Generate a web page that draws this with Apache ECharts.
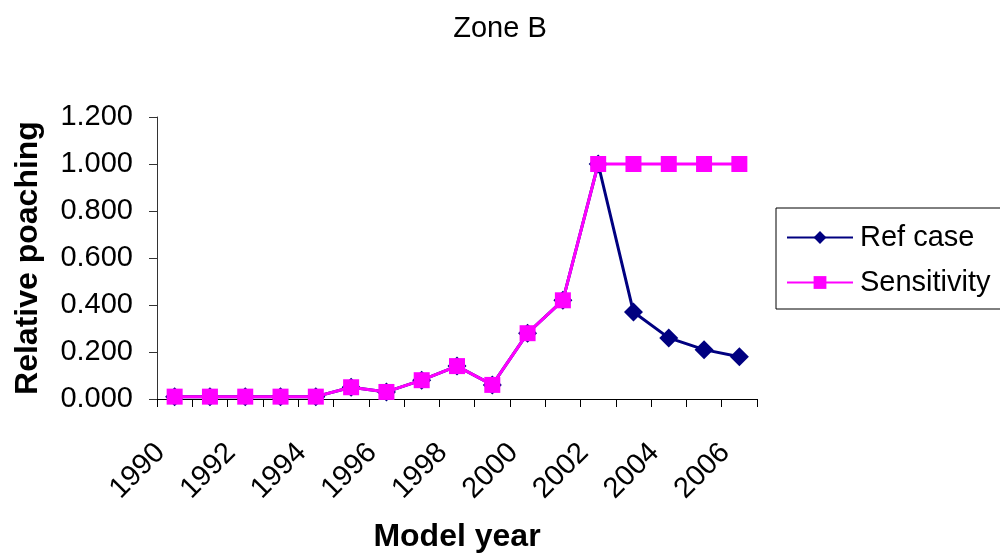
<!DOCTYPE html>
<html>
<head>
<meta charset="utf-8">
<script src="https://cdn.jsdelivr.net/npm/echarts@6/dist/echarts.min.js"></script>
<style>
html,body{margin:0;padding:0;background:#fff;}
#chart{width:1000px;height:558px;}
</style>
</head>
<body>
<div id="chart"></div>
<script>
const years = ['1990','1991','1992','1993','1994','1995','1996','1997','1998','1999','2000','2001','2002','2003','2004','2005','2006'];
const refCase = [0.01,0.01,0.01,0.01,0.01,0.05,0.03,0.08,0.14,0.06,0.28,0.42,1.00,0.37,0.26,0.21,0.18];
const sensitivity = [0.01,0.01,0.01,0.01,0.01,0.05,0.03,0.08,0.14,0.06,0.28,0.42,1.00,1.00,1.00,1.00,1.00];
const yTicks = {min:0, max:1.2, interval:0.2};

const FONT = 'Liberation Sans, Arial, sans-serif';
const chart = echarts.init(document.getElementById('chart'), null, {renderer:'canvas'});
chart.setOption({
  backgroundColor:'#fff',
  animation:false,
  title:{
    text:'Zone B', left:'center', top:9,
    textStyle:{fontFamily:FONT, fontSize:29, fontWeight:'normal', color:'#000'}
  },
  legend:{
    orient:'vertical', left:776, top:208,
    borderColor:'#000', borderWidth:1,
    padding:[15,20,12,10],
    itemWidth:66, itemHeight:16, itemGap:16,
    textStyle:{fontFamily:FONT, fontSize:29, color:'#000', padding:[0,0,0,2]},
    data:['Ref case','Sensitivity']
  },
  grid:{left:157, right:243, top:117, bottom:155, containLabel:false},
  xAxis:{
    type:'category', data:years, boundaryGap:true,
    name:'Model year', nameLocation:'middle', nameGap:122,
    nameTextStyle:{fontFamily:FONT, fontSize:32, fontWeight:'bold', color:'#000'},
    axisLine:{lineStyle:{color:'#000', width:1}},
    axisTick:{show:true, interval:0, length:8, lineStyle:{color:'#000'}},
    axisLabel:{interval:1, rotate:45, fontFamily:FONT, fontSize:29, color:'#000', margin:35, padding:[0,20,0,0]},
    splitLine:{show:false}
  },
  yAxis:{
    type:'value', min:yTicks.min, max:yTicks.max, interval:yTicks.interval,
    name:'Relative poaching', nameLocation:'middle', nameGap:113, nameRotate:90,
    nameTextStyle:{fontFamily:FONT, fontSize:32, fontWeight:'bold', color:'#000'},
    axisLine:{show:true, lineStyle:{color:'#333', width:1}},
    axisTick:{show:true, length:8, lineStyle:{color:'#333'}},
    axisLabel:{fontFamily:FONT, fontSize:29, color:'#000', margin:24, formatter:v=>v.toFixed(3)},
    splitLine:{show:false}
  },
  series:[
    {
      name:'Ref case', type:'line', data:refCase,
      symbol:'diamond', symbolSize:19,
      lineStyle:{color:'#000080', width:3},
      itemStyle:{color:'#000080'},
      z:2
    },
    {
      name:'Sensitivity', type:'line', data:sensitivity,
      symbol:'rect', symbolSize:16,
      lineStyle:{color:'#FF00FF', width:3},
      itemStyle:{color:'#FF00FF'},
      z:3
    }
  ]
});
</script>
</body>
</html>
